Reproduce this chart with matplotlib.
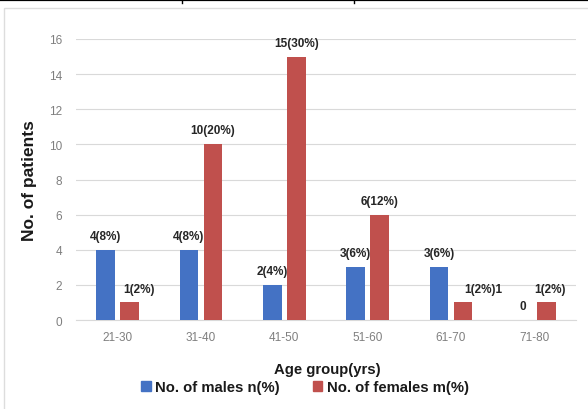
import matplotlib
matplotlib.use("Agg")
import numpy as np
import matplotlib.pyplot as plt
from matplotlib.lines import Line2D
from matplotlib.patches import Rectangle, Patch

plt.rcParams['font.family'] = ['Liberation Sans', 'DejaVu Sans']

# data
age_groups = ["21-30", "31-40", "41-50", "51-60", "61-70", "71-80"]
males = [4, 4, 2, 3, 3, 0]
females = [1, 10, 15, 6, 1, 1]
male_labels = ["4(8%)", "4(8%)", "2(4%)", "3(6%)", "3(6%)", "0"]
female_labels = ["1(2%)", "10(20%)", "15(30%)", "6(12%)", "1(2%)1", "1(2%)"]

blue = "#4472C4"
red = "#C0504D"
grid = "#D9D9D9"

fig = plt.figure(figsize=(5.88, 4.10), dpi=100)
W, H = 588, 410

# top table rule and chart frame
fig.add_artist(Line2D([0, 1], [1 - 1.2 / H] * 2, color="black", lw=1.6))
for xp in (182, 354):
    fig.add_artist(Line2D([xp / W] * 2, [1, 1 - 4 / H], color="black", lw=1.0))
fig.add_artist(Rectangle((4 / W, -0.01), 1.0, 1 - 9 / H + 0.01,
                         transform=fig.transFigure, fill=False,
                         edgecolor="#DDDDDD", lw=1.0))

ax = fig.add_axes([76 / W, 1 - 321 / H, 500 / W, 281 / H])
x = np.arange(len(age_groups))
w = 0.222
off = 0.144
mb = ax.bar(x - off, males, w, color=blue, zorder=3)
fb = ax.bar(x + off, females, w, color=red, zorder=3)

# label nudges (pixels) for labels that were moved in the original
f_dx = [9, 0, 0, 0, 20, 4]
for i in range(len(x)):
    ax.annotate(male_labels[i], (x[i] - off, males[i]), xytext=(0, 10),
                textcoords="offset points", ha="center", va="center",
                fontsize=8.5, fontweight="bold", color="#262626")
    ax.annotate(female_labels[i], (x[i] + off, females[i]),
                xytext=(f_dx[i] * 0.72, 10), textcoords="offset points",
                ha="center", va="center", fontsize=8.5, fontweight="bold",
                color="#262626")

ax.set_xlim(-0.5, 5.5)
ax.set_ylim(0, 16)
ax.set_yticks(range(0, 17, 2))
ax.set_xticks(x)
ax.set_xticklabels(age_groups)
ax.tick_params(axis="both", length=0, labelsize=8.5, colors="#7F7F7F")
ax.tick_params(axis="y", pad=10)
ax.tick_params(axis="x", pad=8)
ax.grid(axis="y", color=grid, lw=0.8, zorder=0)
for s in ("top", "right", "left"):
    ax.spines[s].set_visible(False)
ax.spines["bottom"].set_color(grid)
ax.spines["bottom"].set_linewidth(0.8)

ax.set_ylabel("No. of patients", fontsize=12.5, fontweight="bold",
              color="#1A1A1A")
ax.yaxis.set_label_coords(-(76 - 37) / 500, 0.5)
fig.text(327 / W, 1 - 370 / H, "Age group(yrs)", ha="center", va="center",
         fontsize=10.7, fontweight="bold", color="#1A1A1A")

handles = [Patch(color=blue), Patch(color=red)]
fig.legend(handles, ["No. of males n(%)", "No. of females m(%)"],
           loc="center", bbox_to_anchor=(305 / W, 1 - 388 / H), ncol=2,
           frameon=False, handlelength=0.65, handleheight=0.65,
           handletextpad=0.3, columnspacing=2.2,
           prop={"size": 10.7, "weight": "bold"}, labelcolor="#1A1A1A")

fig.savefig("out.png", dpi=100)
